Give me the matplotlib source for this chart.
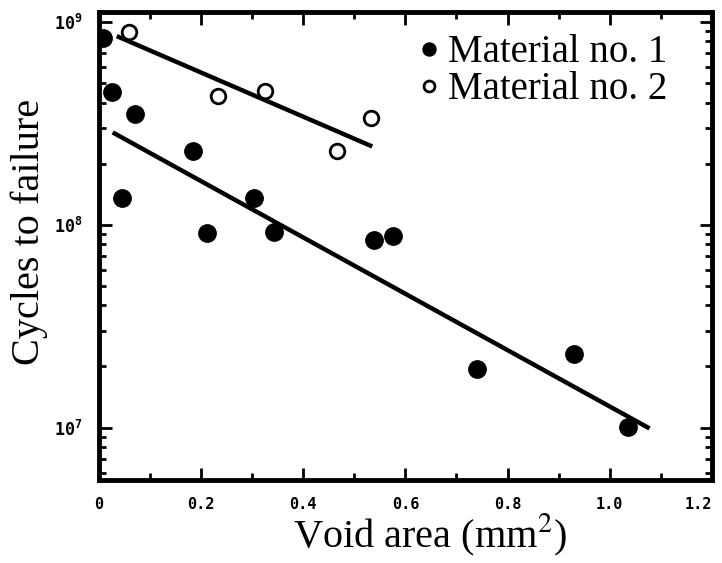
from matplotlib import pyplot as plt
from matplotlib.ticker import FixedLocator, FixedFormatter, LogLocator, NullFormatter
import numpy as np

# void area (mm^2) vs cycles to failure
area_mat1 = [0.008, 0.025, 0.071, 0.045, 0.184, 0.212, 0.304, 0.343, 0.539, 0.576, 0.741, 0.931, 1.035]
cycles_mat1 = [8.3e8, 4.5e8, 3.5e8, 1.35e8, 2.3e8, 9.1e7, 1.36e8, 9.2e7, 8.4e7, 8.8e7, 1.94e7, 2.3e7, 1.01e7]

area_mat2 = [0.059, 0.233, 0.325, 0.467, 0.533]
cycles_mat2 = [8.9e8, 4.3e8, 4.55e8, 2.3e8, 3.35e8]

# end points of the fitted lines
fit1_x = [0.027, 1.078]
fit1_y = [2.85e8, 9.9e6]
fit2_x = [0.035, 0.535]
fit2_y = [8.5e8, 2.43e8]

x_ticks = [0, 0.2, 0.4, 0.6, 0.8, 1.0, 1.2]
x_tick_labels = ['0', '0.2', '0.4', '0.6', '0.8', '1.0', '1.2']
y_ticks = [1e7, 1e8, 1e9]
y_tick_labels = [r'$10^{7}$', r'$10^{8}$', r'$10^{9}$']

plt.rcParams['mathtext.fontset'] = 'custom'
plt.rcParams['mathtext.rm'] = 'DejaVu Sans Mono:bold'
plt.rcParams['mathtext.it'] = 'DejaVu Sans Mono:bold'

serif = 'Liberation Serif'

fig = plt.figure(figsize=(7.22, 5.63), dpi=100, facecolor='white')
ax = fig.add_axes([0.137, 0.147, 0.849, 0.832])

ax.plot(fit1_x, fit1_y, color='black', linewidth=3.2, solid_capstyle='butt')
ax.plot(fit2_x, fit2_y, color='black', linewidth=3.2, solid_capstyle='butt')
ax.plot(area_mat1, cycles_mat1, 'o', color='black', markersize=12.5, label='Material no. 1')
ax.plot(area_mat2, cycles_mat2, 'o', markerfacecolor='white', markeredgecolor='black',
        markeredgewidth=2.0, markersize=10.5, label='Material no. 2')

ax.set_yscale('log')
ax.set_xlim(0, 1.2)
ax.set_ylim(5.5e6, 1.12e9)

ax.xaxis.set_major_locator(FixedLocator(x_ticks))
ax.xaxis.set_major_formatter(FixedFormatter(x_tick_labels))
ax.xaxis.set_minor_locator(FixedLocator(np.arange(0.1, 1.2, 0.2)))
ax.yaxis.set_major_locator(FixedLocator(y_ticks))
ax.yaxis.set_major_formatter(FixedFormatter(y_tick_labels))
ax.yaxis.set_minor_locator(LogLocator(base=10, subs=np.arange(2, 10)))
ax.yaxis.set_minor_formatter(NullFormatter())

ax.tick_params(which='both', direction='in', top=True, right=True, width=2)
ax.tick_params(which='major', length=9, pad=12)
ax.tick_params(which='minor', length=5)
for lab in ax.get_xticklabels():
    lab.set_fontfamily('DejaVu Sans Mono')
    lab.set_fontweight('bold')
    lab.set_fontsize(11)
ax.get_xticklabels()[-1].set_horizontalalignment('right')
for lab in ax.get_yticklabels():
    lab.set_fontsize(12)

for spine in ax.spines.values():
    spine.set_linewidth(3.5)

ax.set_xlabel('Void area (mm$^{2}$)', fontfamily=serif, fontsize=29)
ax.xaxis.label.set_math_fontfamily('stix')
ax.xaxis.set_label_coords(0.54, -0.068)
ax.set_ylabel('Cycles to failure', fontfamily=serif, fontsize=29)
ax.yaxis.set_label_coords(-0.083, 0.53)

ax.legend(loc='upper left', bbox_to_anchor=(0.465, 1.01), frameon=False,
          prop={'family': serif, 'size': 28}, handletextpad=0.05, labelspacing=0.0,
          markerscale=0.75, handlelength=0.9, borderaxespad=0.3)

fig.savefig('out.png', dpi=100, facecolor='white')
